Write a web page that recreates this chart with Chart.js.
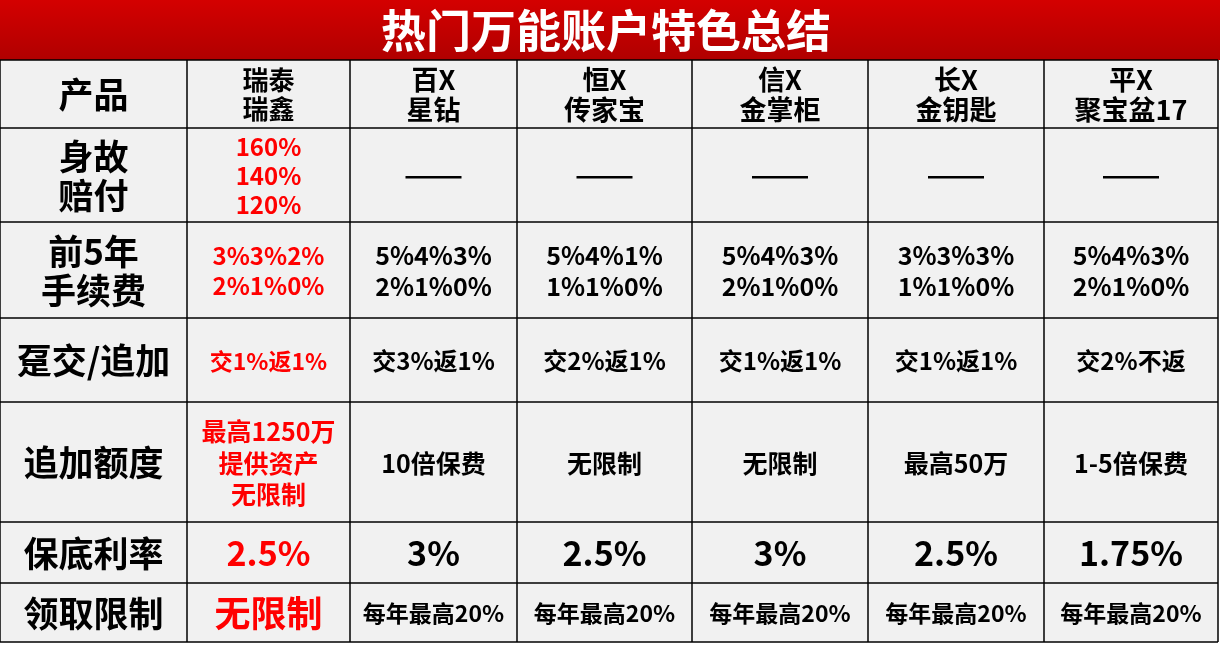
<!DOCTYPE html>
<html><head><meta charset="utf-8">
<script src="https://cdn.jsdelivr.net/npm/chart.js@4"></script>
<style>html,body{margin:0;padding:0;background:#fff}#w{width:1220px;height:650px}</style>
</head><body><div id="w"><canvas id="c"></canvas></div>
<script>
const title = '热门万能账户特色总结';
const rowLabels = ['产品','身故\n赔付','前5年\n手续费','趸交/追加','追加额度','保底利率','领取限制'];
const products = ['瑞泰\n瑞鑫','百X\n星钻','恒X\n传家宝','信X\n金掌柜','长X\n金钥匙','平X\n聚宝盆17'];
const deathBenefit = ['160%\n140%\n120%','——','——','——','——','——'];
const fees = ['3%3%2%\n2%1%0%','5%4%3%\n2%1%0%','5%4%1%\n1%1%0%','5%4%3%\n2%1%0%','3%3%3%\n1%1%0%','5%4%3%\n2%1%0%'];
const topUp = ['交1%返1%','交3%返1%','交2%返1%','交1%返1%','交1%返1%','交2%不返'];
const topUpLimit = ['最高1250万\n提供资产\n无限制','10倍保费','无限制','无限制','最高50万','1-5倍保费'];
const minRate = ['2.5%','3%','2.5%','3%','2.5%','1.75%'];
const withdrawal = ['无限制','每年最高20%','每年最高20%','每年最高20%','每年最高20%','每年最高20%'];
const rows = [products, deathBenefit, fees, topUp, topUpLimit, minRate, withdrawal];

// layout (pixel-space of the linear scales)
const colEdges = [0,187,350,517,692,868,1044,1218];
const rowEdges = [60,128,222,318,402,522,583,642];
const fontSizes = [27,26,25,24,25,34,23];
const firstColSizes = [26,24,24,23,25,34,36];
const lineH = [1.12,1.22,1.22,1.2,1.25,1.2,1.2];

const F = '"Noto Sans CJK SC","Noto Sans",sans-serif';
const tablePlugin = {
  id:'table',
  afterDraw(chart){
    const ctx = chart.ctx, xs = chart.scales.x, ys = chart.scales.y;
    const X = v=>xs.getPixelForValue(v), Y = v=>ys.getPixelForValue(v);
    ctx.save();
    const g = ctx.createLinearGradient(0,Y(0),0,Y(60));
    g.addColorStop(0,'#d40000'); g.addColorStop(1,'#b00000');
    ctx.fillStyle = g; ctx.fillRect(X(0),Y(0),X(1220)-X(0),Y(60)-Y(0));
    ctx.fillStyle='#fff'; ctx.font='bold 45px '+F; ctx.textAlign='center'; ctx.textBaseline='middle';
    ctx.fillText(title, X(606), Y(31));
    ctx.fillStyle='#f1f1f1';
    ctx.fillRect(X(0),Y(60),X(1218)-X(0),Y(642)-Y(60));
    const drawLines=(txt,cx,cy,size,lh,color)=>{
      const ls = txt.split('\n');
      ctx.fillStyle=color; ctx.font='bold '+size+'px '+F;
      ls.forEach((l,i)=>ctx.fillText(l,cx,cy+(i-(ls.length-1)/2)*size*lh));
    };
    for(let r=0;r<rows.length;r++){
      const cy=(Y(rowEdges[r])+Y(rowEdges[r+1]))/2+1;
      drawLines(rowLabels[r],(X(colEdges[0])+X(colEdges[1]))/2,cy,35,1.12,'#000');
      rows[r].forEach((t,c)=>{
        const cx=(X(colEdges[c+1])+X(colEdges[c+2]))/2;
        const size = c===0?firstColSizes[r]:fontSizes[r];
        const color = (c===0 && r>0)?'#ff0000':'#000';
        if(t==='——'){ctx.fillStyle='#000';ctx.fillRect(cx-28,cy,56,2.5);return;}
        drawLines(t,cx,cy,size,lineH[r],color);
      });
    }
    ctx.strokeStyle='#000'; ctx.lineWidth=1.5;
    rowEdges.forEach(y=>{ctx.beginPath();ctx.moveTo(X(0),Y(y));ctx.lineTo(X(1218),Y(y));ctx.stroke();});
    colEdges.forEach(x=>{ctx.beginPath();ctx.moveTo(X(x),Y(60));ctx.lineTo(X(x),Y(642));ctx.stroke();});
    ctx.restore();
  }
};
new Chart(document.getElementById('c'),{
  type:'scatter',
  data:{datasets:[{data:[]}]},
  options:{
    responsive:true,maintainAspectRatio:false,animation:false,
    layout:{padding:0},
    plugins:{legend:{display:false},tooltip:{enabled:false}},
    scales:{
      x:{type:'linear',min:0,max:1220,display:false},
      y:{type:'linear',min:0,max:650,reverse:true,display:false}
    }
  },
  plugins:[tablePlugin]
});
</script></body></html>
